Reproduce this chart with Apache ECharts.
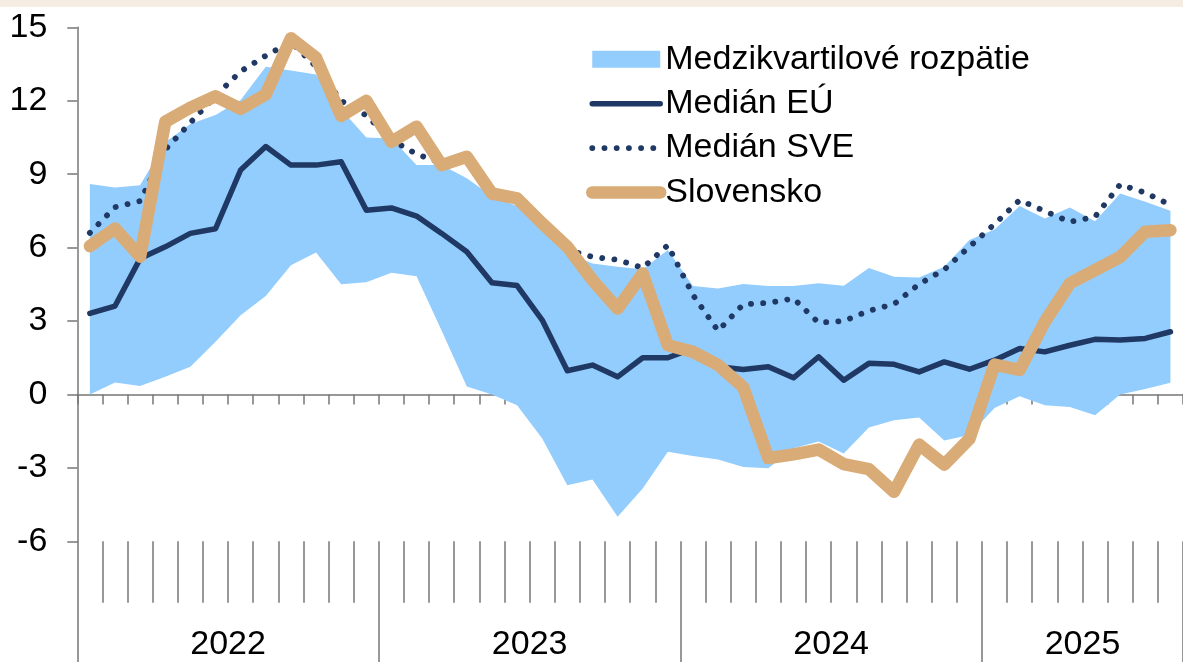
<!DOCTYPE html>
<html>
<head>
<meta charset="utf-8">
<script src="https://cdn.jsdelivr.net/npm/echarts@6/dist/echarts.min.js"></script>
<style>
html,body{margin:0;padding:0;background:#ffffff;}
#c{width:1183px;height:662px;}
</style>
</head>
<body>
<div id="c"></div>
<script>
// ---- categories (monthly, Jan 2022 - Aug 2025) ----
const months = [
  '2022-01','2022-02','2022-03','2022-04','2022-05','2022-06','2022-07','2022-08','2022-09','2022-10','2022-11','2022-12',
  '2023-01','2023-02','2023-03','2023-04','2023-05','2023-06','2023-07','2023-08','2023-09','2023-10','2023-11','2023-12',
  '2024-01','2024-02','2024-03','2024-04','2024-05','2024-06','2024-07','2024-08','2024-09','2024-10','2024-11','2024-12',
  '2025-01','2025-02','2025-03','2025-04','2025-05','2025-06','2025-07','2025-08'
];
const yearLabelIndex = [5, 17, 29, 39];

// ---- series values ----
const bandLow = [
  0.00, 0.49, 0.34, 0.72, 1.13, 2.15, 3.24, 4.02, 5.28, 5.80, 4.50, 4.58,
  4.97, 4.83, 2.60, 0.32, 0.00, -0.44, -1.80, -3.71, -3.47, -5.00, -3.84, -2.34,
  -2.52, -2.66, -2.96, -3.02, -2.20, -1.92, -2.41, -1.35, -1.05, -0.94, -1.88, -1.66,
  -0.55, -0.07, -0.44, -0.51, -0.85, 0.00, 0.22, 0.48
];
const bandHigh = [
  8.60, 8.45, 8.55, 10.30, 11.05, 11.42, 12.03, 13.39, 13.24, 13.07, 11.65, 10.50,
  10.46, 9.37, 9.37, 8.83, 8.10, 7.70, 6.80, 5.80, 5.35, 5.22, 5.11, 5.90,
  4.43, 4.33, 4.51, 4.43, 4.43, 4.54, 4.44, 5.17, 4.81, 4.78, 5.22, 6.31,
  6.74, 7.70, 7.19, 7.64, 7.08, 8.21, 7.87, 7.50
];
const medianEU = [
  3.31, 3.61, 5.55, 6.03, 6.58, 6.77, 9.17, 10.13, 9.37, 9.37, 9.51, 7.53,
  7.62, 7.29, 6.58, 5.83, 4.56, 4.45, 3.04, 0.97, 1.20, 0.72, 1.50, 1.50,
  1.88, 1.13, 1.02, 1.13, 0.68, 1.54, 0.58, 1.27, 1.23, 0.92, 1.33, 1.03,
  1.40, 1.88, 1.74, 2.01, 2.25, 2.22, 2.29, 2.56
];
const medianSVE = [
  6.60, 7.65, 7.90, 10.00, 11.10, 12.20, 13.20, 13.84, 14.40, 13.40, 12.00, 11.40,
  10.40, 9.82, 9.45, 9.60, 8.30, 8.00, 7.00, 5.90, 5.62, 5.50, 5.17, 6.10,
  4.06, 2.60, 3.68, 3.74, 3.92, 2.93, 3.00, 3.42, 3.69, 4.51, 5.10, 6.03,
  6.96, 7.94, 7.49, 7.05, 7.26, 8.58, 8.24, 7.74
];
const slovakia = [
  6.06, 6.78, 5.63, 11.14, 11.72, 12.18, 11.67, 12.26, 14.55, 13.76, 11.38, 12.00,
  10.32, 10.94, 9.37, 9.71, 8.21, 8.01, 6.99, 6.03, 4.67, 3.51, 4.94, 2.01,
  1.74, 1.20, 0.30, -2.60, -2.45, -2.25, -2.85, -3.05, -3.98, -2.05, -2.87, -1.82,
  1.22, 1.00, 2.97, 4.54, 5.08, 5.62, 6.65, 6.71
];

// ---- y axis ticks ----
const yMin = -6, yMax = 15, yStep = 3;

// ---- names ----
const NAME_BAND = 'Medzikvartilové rozpätie';
const NAME_EU = 'Medián EÚ';
const NAME_SVE = 'Medián SVE';
const NAME_SK = 'Slovensko';

// ---- styles ----
const FONT = 'Arial, "Liberation Sans", sans-serif';
const BAND = '#93CDFD';
const NAVY = '#1F3864';
const TAN = '#D9AC77';
const AXIS = '#777777';
const SVE_DASH = [0.1, 12.1];

const bandSpread = bandHigh.map((h, i) => +(h - bandLow[i]).toFixed(2));

const chart = echarts.init(document.getElementById('c'), null, {renderer: 'canvas', width: 1183, height: 662});

const axisLineStyle = {color: AXIS, width: 1.5};

const option = {
  animation: false,
  backgroundColor: '#ffffff',
  graphic: [{
    type: 'rect', left: 0, top: 0, z: -10,
    shape: {x: 0, y: 0, width: 1183, height: 7},
    style: {fill: '#F6EDE2'}, silent: true
  }],
  grid: {left: 77.3, right: 0, top: 27.3, bottom: 120.7, containLabel: false},
  legend: {
    orient: 'vertical',
    left: 586,
    top: 42.3,
    padding: 0,
    itemWidth: 68,
    itemHeight: 17,
    itemGap: 10.4,
    selectedMode: false,
    textStyle: {fontSize: 34, lineHeight: 34, color: '#000', fontFamily: FONT},
    data: [
      {name: NAME_BAND, icon: 'rect', itemStyle: {color: BAND, borderWidth: 0, opacity: 1}},
      {name: NAME_EU, itemStyle: {opacity: 0}, lineStyle: {color: NAVY, width: 5.5, type: 'solid', cap: 'round'}},
      {name: NAME_SVE, itemStyle: {opacity: 0}, lineStyle: {color: NAVY, width: 5.8, type: SVE_DASH, cap: 'round'}},
      {name: NAME_SK, itemStyle: {opacity: 0}, lineStyle: {color: TAN, width: 12.5, type: 'solid', cap: 'round'}}
    ]
  },
  xAxis: [
    {
      type: 'category', data: months, boundaryGap: true,
      axisLine: {show: true, onZero: true, lineStyle: axisLineStyle},
      axisTick: {show: true, interval: 0, length: 10, lineStyle: axisLineStyle},
      axisLabel: {show: false},
      splitLine: {show: false}
    },
    {
      type: 'category', data: months, boundaryGap: true, position: 'bottom',
      axisLine: {show: false, onZero: false},
      axisTick: {show: true, interval: 0, length: 61.5, lineStyle: axisLineStyle},
      axisLabel: {show: false},
      splitLine: {show: false}
    },
    {
      type: 'category', data: months, boundaryGap: true, position: 'bottom',
      axisLine: {show: false, onZero: false},
      axisTick: {show: true, interval: (i) => i % 12 === 0, length: 122, lineStyle: axisLineStyle},
      axisLabel: {
        show: true,
        interval: (i) => yearLabelIndex.indexOf(i) >= 0,
        formatter: (v) => v.slice(0, 4),
        margin: 86,
        fontSize: 34, lineHeight: 34, color: '#000', fontFamily: FONT,
        padding: [0, 0, 0, 25.13]
      },
      splitLine: {show: false}
    }
  ],
  yAxis: {
    type: 'value', min: yMin, max: yMax, interval: yStep,
    axisLine: {show: true, lineStyle: axisLineStyle},
    axisTick: {show: true, length: 10, lineStyle: axisLineStyle},
    axisLabel: {fontSize: 34, color: '#000', margin: 30, fontFamily: FONT},
    splitLine: {show: false}
  },
  series: [
    {
      name: '_bandLow', type: 'line', data: bandLow,
      stack: 'band', stackStrategy: 'all',
      symbol: 'none', silent: true,
      lineStyle: {width: 0, opacity: 0}
    },
    {
      name: NAME_BAND, type: 'line', data: bandSpread,
      stack: 'band', stackStrategy: 'all',
      symbol: 'none', silent: true, color: BAND,
      itemStyle: {color: BAND, borderWidth: 0},
      lineStyle: {width: 0, opacity: 0},
      areaStyle: {color: BAND, opacity: 1}
    },
    {
      name: NAME_EU, type: 'line', data: medianEU,
      symbol: 'none', silent: true, color: NAVY,
      lineStyle: {color: NAVY, width: 5.5, cap: 'round', join: 'round'}
    },
    {
      name: NAME_SVE, type: 'line', data: medianSVE,
      symbol: 'none', silent: true, color: NAVY,
      lineStyle: {color: NAVY, width: 5.8, type: SVE_DASH, cap: 'round', join: 'round'}
    },
    {
      name: NAME_SK, type: 'line', data: slovakia,
      symbol: 'none', silent: true, color: TAN,
      lineStyle: {color: TAN, width: 12.5, cap: 'round', join: 'round'}
    }
  ]
};

chart.setOption(option);
</script>
</body>
</html>
